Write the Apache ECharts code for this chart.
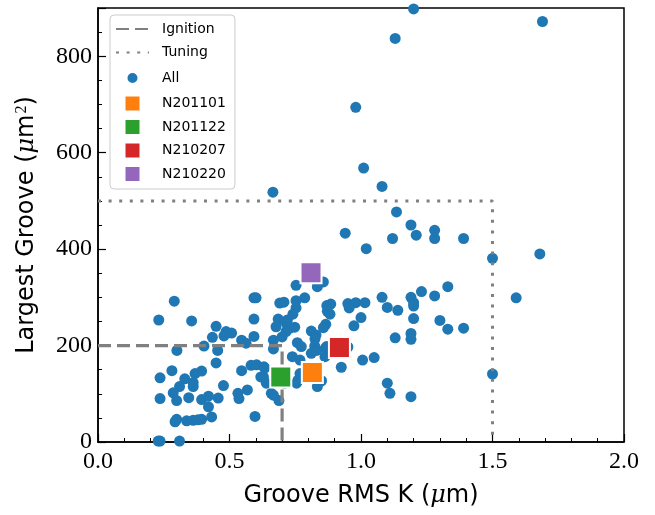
<!DOCTYPE html>
<html>
<head>
<meta charset="utf-8">
<script src="https://cdn.jsdelivr.net/npm/echarts@6/dist/echarts.min.js"></script>
<style>html,body{margin:0;padding:0;background:#fff;}#c{width:655px;height:515px;}</style>
</head>
<body>
<div id="c"></div>
<script>
// All measurements: [Groove RMS K (um), Largest Groove (um^2)]
var allPoints = [
  [1.20,898],[1.13,837],[1.69,872],[0.98,694],[1.01,568],[1.08,530],[0.665,518],
  [1.135,477],[1.19,450],[1.21,429],[1.12,422],[1.28,439],[1.28,422],[1.39,422],
  [1.50,381],[1.68,390],[0.94,433],[1.02,401],[1.33,322],[1.23,312],[1.28,303],
  [1.19,300],[1.08,300],[1.20,289],[1.20,282],[1.10,279],[1.14,273],[1.59,299],
  [1.00,258],[1.20,256],[1.30,252],[1.33,234],[1.39,236],[1.19,225],[1.19,213],
  [1.13,216],[1.006,170],[1.05,175],[1.50,141],[1.10,122],[1.11,101],[1.19,94],
  [0.857,332],[0.834,322],[0.753,325],[0.786,299],[0.593,299],[0.601,299],[0.29,292],
  [0.691,288],[0.707,290],[0.753,293],[0.753,278],[0.87,283],[0.885,286],[0.95,287],
  [0.98,289],[1.015,289],[0.955,278],[0.872,271],[0.882,265],[0.741,265],[0.231,253],
  [0.356,251],[0.593,255],[0.685,255],[0.72,253],[0.716,246],[0.973,241],[0.866,244],
  [0.857,237],[0.449,240],[0.677,239],[0.748,238],[0.73,236],[0.715,229],[0.811,230],
  [0.487,229],[0.508,226],[0.479,220],[0.435,217],[0.593,219],[0.70,218],[0.829,222],
  [0.825,214],[0.546,211],[0.563,205],[0.667,211],[0.758,206],[0.773,198],[0.403,199],
  [0.824,199],[0.864,194],[0.95,197],[0.869,198],[0.30,190],[0.455,190],[0.667,193],
  [0.811,184],[0.831,190],[0.925,155],[0.739,177],[0.768,170],[0.863,177],[0.449,164],
  [0.582,159],[0.603,160],[0.631,156],[0.546,148],[0.634,153],[0.281,148],[0.394,147],
  [0.369,142],[0.236,133],[0.33,131],[0.619,135],[0.629,135],[0.362,123],[0.31,115],
  [0.362,115],[0.477,117],[0.568,108],[0.76,128],[0.755,122],[0.768,142],[0.834,115],
  [0.85,127],[0.71,122],[0.64,122],[0.286,102],[0.236,90],[0.345,92],[0.299,86],
  [0.394,88],[0.42,95],[0.457,91],[0.532,101],[0.536,90],[0.659,101],[0.667,97],
  [0.688,86],[0.42,73],[0.432,52],[0.597,53],[0.299,47],[0.293,42],[0.337,44],
  [0.362,45],[0.38,46],[0.394,47],[0.229,2],[0.236,2],[0.31,2]
];
var sampleNames = ['N201101','N201122','N210207','N210220'];
var sampleX = [0.815, 0.695, 0.918, 0.81];
var sampleY = [144, 135, 196, 351];
var sampleColors = ['#ff7f0e','#2ca02c','#d62728','#9467bd'];
var ignitionX = [0, 0.7, 0.7];
var ignitionY = [200, 200, 0];
var tuningX = [0, 1.5, 1.5];
var tuningY = [500, 500, 0];
var xTicks = [0, 0.5, 1.0, 1.5, 2.0];
var yTicks = [0, 200, 400, 600, 800];

function zip(a, b) { return a.map(function (v, i) { return [v, b[i]]; }); }

var series = [
  {name:'All', type:'scatter', data: allPoints, symbol:'circle', symbolSize: 11,
   itemStyle:{color:'#1f77b4', opacity:1}, z:2},
  {name:'Ignition', type:'line', data: zip(ignitionX, ignitionY), symbol:'none',
   itemStyle:{color:'#808080'},
   lineStyle:{color:'#808080', width:3.2, type:[13,6]}, z:3},
  {name:'Tuning', type:'line', data: zip(tuningX, tuningY), symbol:'none',
   itemStyle:{color:'#808080'},
   lineStyle:{color:'#808080', width:3, type:[3,7.6]}, z:3}
];
sampleNames.forEach(function (n, i) {
  series.push({name:n, type:'scatter', data:[[sampleX[i], sampleY[i]]], symbol:'rect',
    symbolSize:21, itemStyle:{color:sampleColors[i], opacity:1, borderColor:'#fff', borderWidth:2}, z:4});
});

var squareIcon = 'path://M0,0L10,0L10,10L0,10Z';
var legendData = [
  {name:'Ignition', itemStyle:{color:'rgba(0,0,0,0)', borderWidth:0}},
  {name:'Tuning', itemStyle:{color:'rgba(0,0,0,0)', borderWidth:0}},
  {name:'All', icon:'circle', itemStyle:{borderColor:'#fff', borderWidth:4}}
].concat(sampleNames.map(function (n) { return {name:n, icon:squareIcon, itemStyle:{borderWidth:0}}; }));

var chart = echarts.init(document.getElementById('c'), null, {renderer:'canvas'});
chart.setOption({
  animation:false,
  backgroundColor:'#fff',
  grid:{left:98, right:31, top:8, bottom:73, show:true, borderColor:'#000', borderWidth:1.5, backgroundColor:'transparent'},
  legend:{
    data: legendData, orient:'vertical', left:110, top:15,
    padding:[7,9,8,5], itemWidth:33, itemHeight:14, itemGap:9.5,
    backgroundColor:'#fff', borderColor:'#cccccc', borderWidth:1, borderRadius:4,
    textStyle:{fontFamily:'DejaVu Sans', fontSize:14, color:'#000', padding:[0,0,0,8]},
    selectedMode:false
  },
  xAxis:{
    type:'value', min:0, max:2, interval:0.5,
    name:'Groove RMS K ({it|μ}m)', nameLocation:'middle', nameGap:42,
    nameTextStyle:{fontFamily:'DejaVu Sans', fontSize:24, color:'#000',
      rich:{it:{fontFamily:'DejaVu Serif', fontStyle:'italic', fontSize:24, color:'#000'}}},
    axisLine:{lineStyle:{color:'#000', width:1.5}},
    axisTick:{inside:true, length:8, lineStyle:{color:'#000', width:1.2}},
    minorTick:{show:true, splitNumber:5, length:4, lineStyle:{color:'#000', width:1}},
    axisLabel:{fontFamily:'Liberation Serif', fontSize:24, color:'#000', margin:8,
      formatter:function (v) { return xTicks.indexOf(v) >= 0 ? v.toFixed(1) : ''; }},
    splitLine:{show:false}
  },
  yAxis:[{
    type:'value', min:0, max:900, interval:200,
    name:'Largest Groove ({it|μ}m{sup|2})', nameLocation:'middle', nameGap:58,
    nameTextStyle:{fontFamily:'DejaVu Sans', fontSize:24, color:'#000',
      rich:{it:{fontFamily:'DejaVu Serif', fontStyle:'italic', fontSize:24, color:'#000'},
            sup:{fontFamily:'Liberation Serif', fontSize:16, color:'#000', verticalAlign:'top', padding:[0,0,10,1]}}},
    axisLine:{lineStyle:{color:'#000', width:1.5}},
    axisTick:{inside:true, length:8, lineStyle:{color:'#000', width:1.2}},
    axisLabel:{fontFamily:'Liberation Serif', fontSize:24, color:'#000', margin:6,
      formatter:function (v) { return yTicks.indexOf(v) >= 0 ? String(v) : ''; }},
    splitLine:{show:false}
  },{
    type:'value', min:0, max:900, interval:50, position:'left',
    axisLine:{show:false},
    axisTick:{inside:true, length:4, lineStyle:{color:'#000', width:1}},
    axisLabel:{show:false}, splitLine:{show:false}
  }],
  series: series
});
</script>
</body>
</html>
